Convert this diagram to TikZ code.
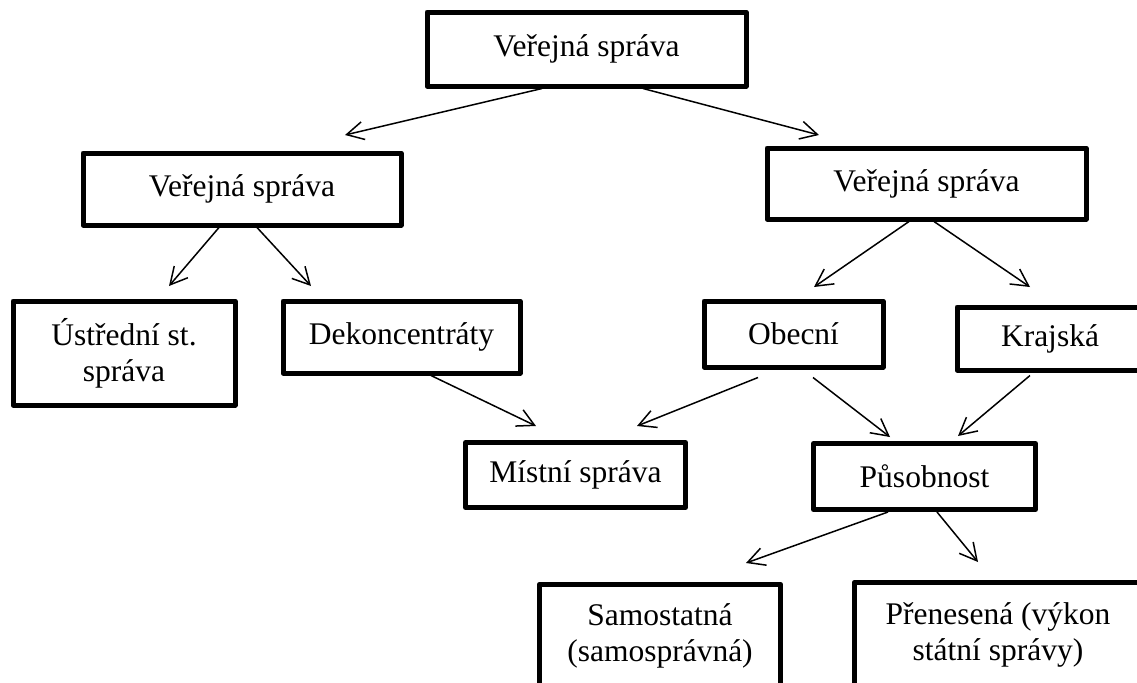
\documentclass[tikz,border=0pt]{standalone}
\usepackage{fontspec}
\setmainfont{Liberation Serif}
\usetikzlibrary{arrows.meta,calc}
\begin{document}
\begin{tikzpicture}[x=0.5pt,y=-0.5pt,
  box/.style={draw, line width=2.5pt, line join=round, inner sep=0pt, align=center,
    font=\fontsize{15.75}{18}\selectfont},
  arr/.style={line width=0.75pt, -{Straight Barb[length=8.5pt,width=9pt,line width=0.75pt]}}]
\path[use as bounding box, clip] (0,0) rectangle (1137,682);
\fill[white] (0,0) rectangle (1137,682);
% boxes
\node[box, minimum width=159.5pt, minimum height=37pt] (T) at (586.5,49) {Veřejná správa};
\node[box, minimum width=159pt, minimum height=36pt] (L) at (242,189) {Veřejná správa};
\node[box, minimum width=159.5pt, minimum height=35.5pt] (R) at (926.5,183.5) {Veřejná správa};
\node[box, minimum width=111pt, minimum height=52pt] (U) at (124,353) {Ústřední st.\\správa};
\node[box, minimum width=118.5pt, minimum height=36pt] (D) at (401.5,337) {Dekoncentráty};
\node[box, minimum width=89.5pt, minimum height=33pt] (O) at (793.5,334) {Obecní};
\node[box, minimum width=93pt, minimum height=31.5pt] (K) at (1050,338.5) {Krajská};
\node[box, minimum width=110pt, minimum height=32.5pt] (M) at (575.5,475) {Místní správa};
\node[box, minimum width=111pt, minimum height=33pt] (P) at (924.5,476.5) {Působnost};
\node[box, minimum width=120.5pt, minimum height=51.75pt] (S) at (660,636) {Samostatná\\(samosprávná)};
\node[box, minimum width=143.5pt, minimum height=52.75pt] (N) at (998,635) {Přenesená (výkon\\státní správy)};
% arrow tips
\coordinate (t1) at (345,135);
\coordinate (t2) at (819,135);
\coordinate (t3) at (169,286);
\coordinate (t4) at (311,286);
\coordinate (t5) at (814,287);
\coordinate (t6) at (1030,287);
\coordinate (t7) at (536,426);
\coordinate (t8) at (637,426);
\coordinate (t9) at (890,437);
\coordinate (t10) at (958,436);
\coordinate (t11) at (746,563);
\coordinate (t12) at (978,562);
% connectors
\draw[arr] (542,0 |- T.south) -- (t1);
\draw[arr] (643,0 |- T.south) -- (t2);
\draw[arr] (219,0 |- L.south) -- (t3);
\draw[arr] (257,0 |- L.south) -- (t4);
\draw[arr] (909,0 |- R.south) -- (t5);
\draw[arr] (934,0 |- R.south) -- (t6);
\draw[arr] (431,0 |- D.south) -- (t7);
\draw[arr] ($(758,0 |- O.south)+(0,8)$) -- (t8);
\draw[arr] ($(813,0 |- O.south)+(0,8)$) -- (t9);
\draw[arr] ($(1030,0 |- K.south)+(0,3)$) -- (t10);
\draw[arr] (888,0 |- P.south) -- (t11);
\draw[arr] (937,0 |- P.south) -- (t12);
\end{tikzpicture}
\end{document}
